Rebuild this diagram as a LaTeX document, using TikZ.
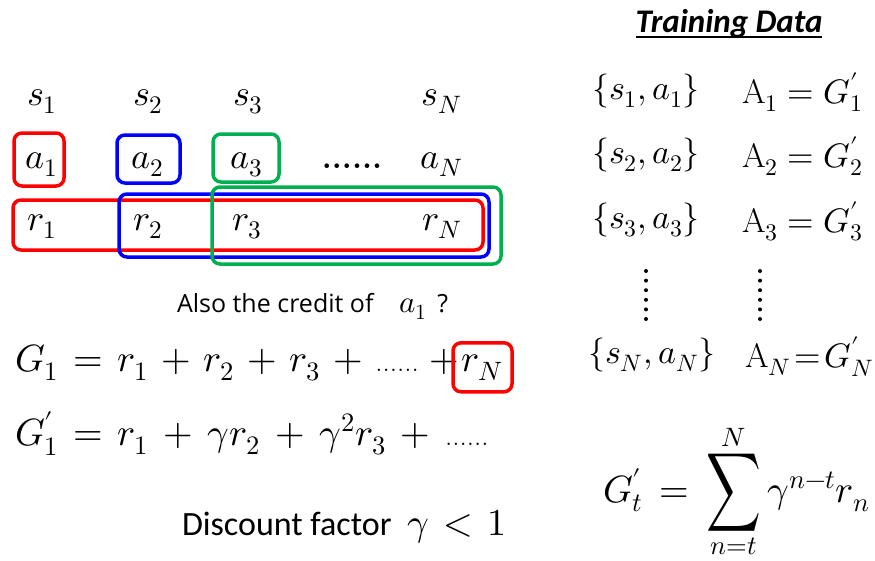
\documentclass[tikz,border=0pt]{standalone}
\usepackage{graphicx}
\usepackage{fontspec}
\usepackage{unicode-math}
\setmathfont{Latin Modern Math}
\newfontfamily\opensans{Open Sans}
\newfontfamily\carlito{Carlito}
\definecolor{bred}{RGB}{255,0,0}
\definecolor{bblue}{RGB}{0,0,255}
\definecolor{bgreen}{RGB}{0,176,80}
\newcommand{\smalldots}{\text{\fontsize{29}{30}\selectfont ......}}
\newcommand{\bigsum}{\mathop{\vcenter{\hbox{\scalebox{1}[1.45]{$\displaystyle\sum$}}}}\limits}
\begin{document}
\begin{tikzpicture}[x=1pt,y=-1pt,
  every node/.style={inner sep=0pt, outer sep=0pt},
  mt/.style={anchor=base, font=\fontsize{36}{40}\selectfont},
  rt/.style={anchor=base west, font=\fontsize{34}{38}\selectfont},
  bt/.style={anchor=base west, font=\fontsize{38}{42}\selectfont},
  frame/.style={draw=#1, line width=3.5pt, rounded corners=8pt},
  dotcol/.style={line width=4pt, line cap=round, dash pattern=on 0pt off 9.6pt}
]
\useasboundingbox (0,0) rectangle (875,560);
\fill[white] (0,0) rectangle (875,560);

% title
\node[anchor=base, font=\carlito\bfseries\itshape\fontsize{33}{36}\selectfont] (title) at (729,32) {Training Data};
\draw[line width=1.6pt] ([yshift=-5pt]title.base west) -- ([yshift=-5pt]title.base east);

% states
\node[mt] (s1) at (42,105) {$s_1$};
\node[mt] (s2) at (148,105) {$s_2$};
\node[mt] (s3) at (248,105) {$s_3$};
\node[mt] (sN) at (442,105) {$s_N$};
% actions
\node[mt] (a1) at (42,168) {$a_1$};
\node[mt] (a2) at (148,168) {$a_2$};
\node[mt] (a3) at (247,168) {$a_3$};
\node[mt, font=\bfseries\fontsize{32}{34}\selectfont] (adots) at (352,168) {......};
\node[mt] (aN) at (442,168) {$a_N$};
% rewards
\node[mt] (r1) at (42,230) {$r_1$};
\node[mt] (r2) at (148,230) {$r_2$};
\node[mt] (r3) at (247,230) {$r_3$};
\node[mt] (rN) at (442,230) {$r_N$};

% frames
\node[frame=bred, minimum width=50pt, minimum height=53pt] (fa1) at (39,159.5) {};
\node[frame=bblue, minimum width=63pt, minimum height=48pt] (fa2) at (148.5,159) {};
\node[frame=bgreen, minimum width=66pt, minimum height=48pt] (fa3) at (246,158) {};
\node[frame=bred, minimum width=470pt, minimum height=50pt] (fr1) at (248,225) {};
\node[frame=bblue, minimum width=370pt, minimum height=63pt] (fr2) at (304,225.5) {};
\node[frame=bgreen, minimum width=289pt, minimum height=77pt] (fr3) at (356.5,225.5) {};

% credit question
\node[anchor=base west, font=\opensans\fontsize{25}{28}\selectfont] (credit) at (177,312)
  {Also the credit of\hspace{26pt}{\fontsize{31}{32}\selectfont$a_1$}\hspace{10pt}?};

% G1
\node[bt] (g1) at (15,371) {\medmuskip=6mu \thickmuskip=7mu $G_1 = r_1 + r_2 + r_3 + \smalldots \mkern5mu +$};
\node[anchor=base, font=\fontsize{38}{42}\selectfont, draw=bred, line width=3.5pt,
  rounded corners=8pt, minimum width=59pt, minimum height=49pt] (g1rN) at (482.5,371) {$r_N$};
% G1'
\node[bt] (g1p) at (15,445) {\medmuskip=7mu \thickmuskip=7mu $G'_1 = r_1 + \gamma r_2 + \gamma^2 r_3 + \smalldots$};
% discount
\node[anchor=base west, font=\carlito\fontsize{34}{38}\selectfont] (disc) at (182,535)
  {Discount factor\ \ {\fontsize{38}{42}\selectfont\thickmuskip=7mu $\gamma < 1$}};

% training data rows
\node[rt] (sa1) at (592,99) {$\{s_1, a_1\}$};
\node[rt] (A1) at (742,103) {$\mathrm{A}_1 = G'_1$};
\node[rt] (sa2) at (592,163) {$\{s_2, a_2\}$};
\node[rt] (A2) at (742,167) {$\mathrm{A}_2 = G'_2$};
\node[rt] (sa3) at (592,228) {$\{s_3, a_3\}$};
\node[rt] (A3) at (742,232) {$\mathrm{A}_3 = G'_3$};
\node[rt] (saN) at (588,363) {$\{s_N, a_N\}$};
\node[rt] (AN) at (745,367) {\thickmuskip=2mu $\mathrm{A}_N = G'_N$};

\coordinate (dl1) at (646,271);
\coordinate (dl2) at (646,320);
\coordinate (dr1) at (760,271);
\coordinate (dr2) at (760,320);
\draw[dotcol] (dl1) -- (dl2);
\draw[dotcol] (dr1) -- (dr2);

% sum formula
\node[anchor=base west, font=\fontsize{38}{42}\selectfont] (gsum) at (603,502)
  {\thickmuskip=8mu $\displaystyle G'_t = \bigsum_{n=t}^{N} \gamma^{n-t} r_n$};
\end{tikzpicture}
\end{document}
